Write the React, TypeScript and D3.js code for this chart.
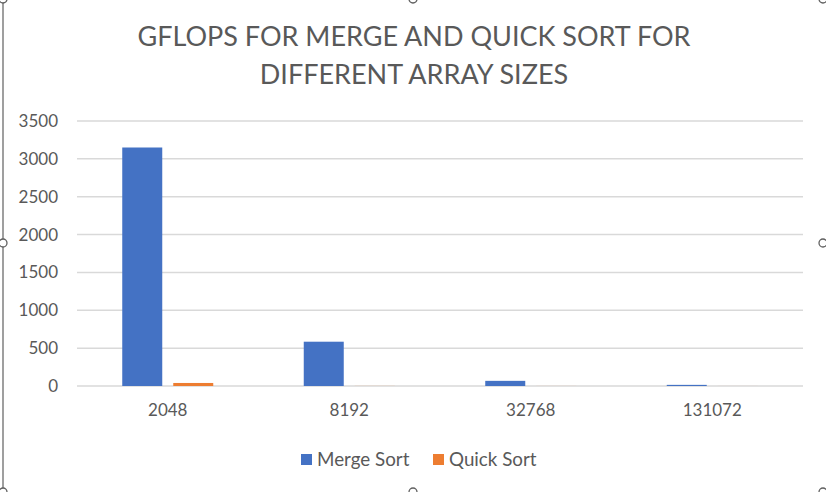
import React, { useRef, useEffect } from 'react';
import * as d3 from 'd3';

const categories = ['2048', '8192', '32768', '131072'];
const mergeSort = [3150, 585, 68, 15];
const quickSort = [40, 1, 0.5, 0.3];
const yTicks = [0, 500, 1000, 1500, 2000, 2500, 3000, 3500];
const seriesNames = ['Merge Sort', 'Quick Sort'];
const seriesColors = ['#4472C4', '#ED7D31'];
const titleLines = ['GFLOPS FOR MERGE AND QUICK SORT FOR', 'DIFFERENT ARRAY SIZES'];

const W = 826;
const H = 492;
const FONT = 'Lato, "Open Sans", sans-serif';

export default function App() {
    const svgRef = useRef<SVGSVGElement | null>(null);

    useEffect(() => {
        if (!svgRef.current) return;
        const svg = d3.select(svgRef.current);
        svg.selectAll('*').remove();

        svg.append('rect').attr('width', W).attr('height', H).attr('fill', '#fff');

        const margin = { left: 77, right: 23, top: 121, bottom: 106 };
        const x = d3.scaleBand<string>()
            .domain(categories)
            .range([margin.left, W - margin.right]);
        const y = d3.scaleLinear()
            .domain([0, 3500])
            .range([H - margin.bottom, margin.top]);

        // title
        svg.append('g')
            .selectAll('text')
            .data(titleLines)
            .join('text')
            .attr('x', 414)
            .attr('y', (d, i) => 46 + i * 38)
            .attr('text-anchor', 'middle')
            .style('font-family', FONT)
            .style('font-size', '27px')
            .style('fill', '#595959')
            .text(d => d);

        // gridlines
        svg.append('g')
            .selectAll('line')
            .data(yTicks)
            .join('line')
            .attr('x1', margin.left)
            .attr('x2', W - margin.right)
            .attr('y1', d => y(d))
            .attr('y2', d => y(d))
            .attr('stroke', '#d9d9d9')
            .attr('stroke-width', 1.5);

        // y labels
        svg.append('g')
            .selectAll('text')
            .data(yTicks)
            .join('text')
            .attr('x', 58)
            .attr('y', d => y(d))
            .attr('dy', '0.35em')
            .attr('text-anchor', 'end')
            .style('font-family', FONT)
            .style('font-size', '17px')
            .style('fill', '#595959')
            .text(d => d);

        // x labels
        svg.append('g')
            .selectAll('text')
            .data(categories)
            .join('text')
            .attr('x', d => x(d)! + x.bandwidth() / 2)
            .attr('y', 416)
            .attr('text-anchor', 'middle')
            .style('font-family', FONT)
            .style('font-size', '17px')
            .style('fill', '#595959')
            .text(d => d);

        const barW = 40;
        const gap = 11;
        const series = [mergeSort, quickSort];
        series.forEach((vals, si) => {
            svg.append('g')
                .selectAll('rect')
                .data(vals)
                .join('rect')
                .attr('x', (d, i) => {
                    const c = x(categories[i])! + x.bandwidth() / 2;
                    return si === 0 ? c - gap / 2 - barW : c + gap / 2;
                })
                .attr('y', d => y(d))
                .attr('width', barW)
                .attr('height', d => y(0) - y(d))
                .attr('fill', seriesColors[si]);
        });

        // legend
        const legendX = [301, 433];
        const lg = svg.append('g')
            .selectAll('g')
            .data(seriesNames)
            .join('g')
            .attr('transform', (d, i) => `translate(${legendX[i]},454)`);
        lg.append('rect')
            .attr('width', 11)
            .attr('height', 11)
            .attr('fill', (d, i) => seriesColors[i]);
        lg.append('text')
            .attr('x', 16)
            .attr('y', 12)
            .style('font-family', FONT)
            .style('font-size', '18.8px')
            .style('fill', '#595959')
            .text(d => d);

        // selection frame
        svg.append('line')
            .attr('x1', 3).attr('x2', 3)
            .attr('y1', 0).attr('y2', 488)
            .attr('stroke', '#7f7f7f')
            .attr('stroke-width', 1.5);
        const handles: [number, number][] = [
            [3, -1], [413, -1], [823, -1],
            [3, 243], [823, 243],
            [3, 492], [413, 492], [823, 492],
        ];
        svg.append('g')
            .selectAll('circle')
            .data(handles)
            .join('circle')
            .attr('cx', d => d[0])
            .attr('cy', d => d[1])
            .attr('r', 4)
            .attr('fill', '#fff')
            .attr('stroke', '#606060')
            .attr('stroke-width', 1.3);
    }, []);

    return (
        <div style={{ position: 'fixed', left: 0, top: 0 }}>
            <svg ref={svgRef} width={W} height={H} style={{ display: 'block' }}></svg>
        </div>
    );
}
